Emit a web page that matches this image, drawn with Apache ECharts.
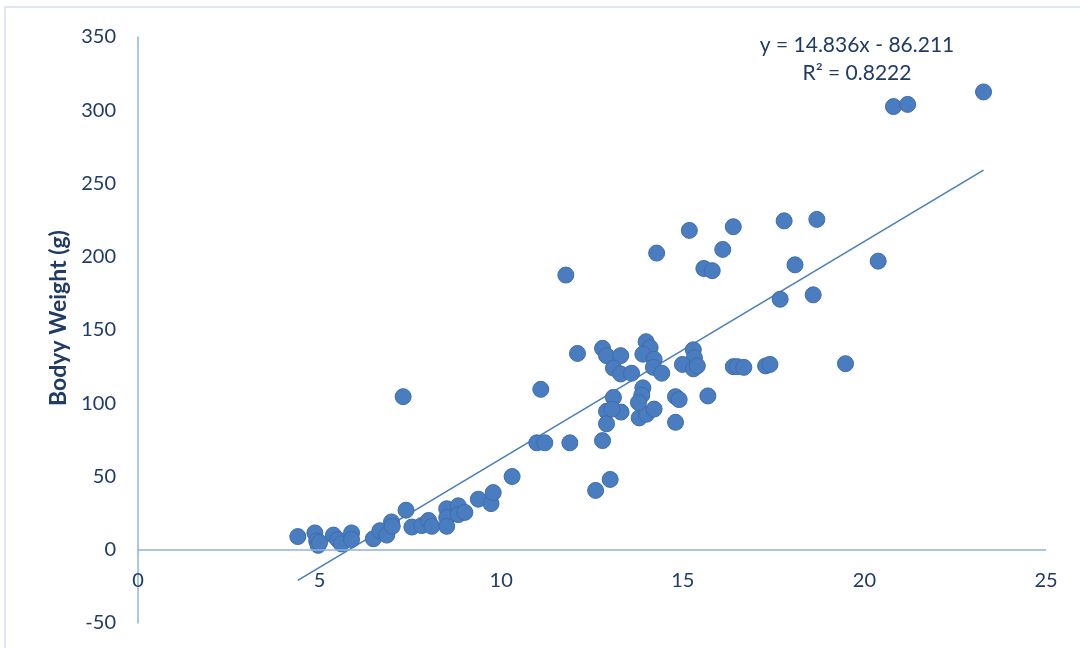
<!DOCTYPE html>
<html>
<head>
<meta charset="utf-8">
<script src="https://cdn.jsdelivr.net/npm/echarts@6/dist/echarts.min.js"></script>
<style>
  html, body { margin: 0; padding: 0; background: #fff; }
  #chart { width: 1080px; height: 648px; }
</style>
</head>
<body>
<div id="chart"></div>
<script>
// Body length vs body weight measurements
const lengths = [
  4.4, 4.87, 4.92, 4.96, 5.0, 5.38, 5.5, 5.6, 5.88, 5.88,
  6.48, 6.66, 6.85, 6.98, 7.0, 7.38, 7.54, 7.81, 8.0, 8.09,
  8.5, 8.5, 8.5, 8.82, 8.82, 9.0, 9.37, 9.72, 9.78, 10.3,
  7.3, 10.98, 11.2, 11.09, 11.89, 11.78, 12.1, 12.6, 12.79, 13.0,
  12.79, 12.9, 13.29, 13.09, 13.29, 13.59, 13.99, 14.1, 13.9, 14.21,
  14.19, 14.42, 14.28, 12.9, 13.09, 13.3, 12.9, 13.8, 14.0, 14.21,
  13.9, 13.87, 13.78, 14.8, 14.9, 14.8, 15.69, 15.29, 15.32, 14.99,
  15.29, 15.4, 15.18, 15.58, 15.81, 16.1, 16.39, 16.39, 16.5, 16.68,
  17.28, 17.4, 17.68, 17.79, 18.09, 18.59, 18.69, 19.48, 20.38, 20.8,
  21.19, 23.28, 13.05
];
const weights = [
  9, 11.5, 6, 3, 5, 10, 7, 4, 11.5, 7,
  7.5, 13, 10, 19, 16, 27, 15.5, 16.5, 20, 16,
  28, 22, 16, 30, 24, 25.5, 34.5, 31.5, 39, 50,
  104.5, 73, 73, 109.5, 73, 187.5, 134, 40.5, 74.5, 48,
  137.5, 132.5, 132.5, 124, 120, 120.5, 142, 138, 133.5, 130,
  124.5, 120.5, 202.5, 94.5, 104, 94, 86, 90, 92.5, 96,
  110.5, 105.5, 100.5, 104.5, 102.5, 87, 105, 136.5, 131, 126.5,
  123.5, 125.5, 218, 192, 190.5, 205, 220.5, 125, 125, 124.5,
  125.5, 126.5, 171, 224.5, 194.5, 174, 225.5, 127, 197, 302.5,
  304, 312.5, 96
];

// Linear trend line coefficients and fit quality
const slope = 14.836;
const intercept = -86.211;
const rSquared = 0.8222;

const xTicks = [0, 5, 10, 15, 20, 25];
const yTicks = [-50, 0, 50, 100, 150, 200, 250, 300, 350];
const yTitle = 'Bodyy Weight (g)';

const points = lengths.map((x, i) => [x, weights[i]]);
const xMin = Math.min(...lengths);
const xMax = Math.max(...lengths);
const trend = [xMin, xMax].map(x => [x, slope * x + intercept]);

const textColor = '#1f3b66';
const axisColor = '#8db3e2';
const pointColor = '#4a7cc0';
const font = 'Lato, "Open Sans", sans-serif';

const chart = echarts.init(document.getElementById('chart'), null, { renderer: 'canvas' });
chart.setOption({
  animation: false,
  backgroundColor: '#fff',
  grid: {
    left: 138, right: 34, top: 37, bottom: 25,
    containLabel: false, outerBoundsMode: 'none'
  },
  xAxis: {
    type: 'value',
    min: xTicks[0],
    max: xTicks[xTicks.length - 1],
    interval: 5,
    // the visible horizontal axis is the y = 0 line below; labels sit just under it
    axisLine: { show: false, onZero: false },
    axisTick: { show: false },
    splitLine: { show: false },
    axisLabel: {
      color: textColor, fontFamily: font, fontSize: 20, margin: -52,
      showMinLabel: true, showMaxLabel: true
    }
  },
  yAxis: {
    type: 'value',
    min: yTicks[0],
    max: yTicks[yTicks.length - 1],
    interval: 50,
    axisLine: { show: true, onZero: false, lineStyle: { color: axisColor, width: 1.5 } },
    axisTick: { show: false },
    splitLine: { show: false },
    axisLabel: {
      color: textColor, fontFamily: font, fontSize: 20, margin: 22,
      showMinLabel: true, showMaxLabel: true
    }
  },
  series: [
    {
      type: 'line',
      data: trend,
      symbol: 'none',
      silent: true,
      z: 3,
      lineStyle: { color: '#4a7ebb', width: 1.6 },
      markLine: {
        silent: true,
        symbol: 'none',
        label: { show: false },
        lineStyle: { color: axisColor, width: 1.5, type: 'solid' },
        data: [{ yAxis: 0 }]
      }
    },
    {
      type: 'scatter',
      data: points,
      symbol: 'circle',
      symbolSize: 16,
      z: 4,
      itemStyle: { color: pointColor, borderColor: '#3d6dad', borderWidth: 1, opacity: 1 }
    }
  ],
  graphic: [
    {
      type: 'rect',
      silent: true,
      shape: { x: 5, y: 7, width: 1200, height: 800 },
      style: { fill: 'none', stroke: '#d6e0ee', lineWidth: 1.5 }
    },
    {
      type: 'text',
      x: 59, y: 318,
      rotation: Math.PI / 2,
      style: {
        text: yTitle, fill: textColor, font: 'bold 23px ' + font,
        align: 'center', verticalAlign: 'middle'
      }
    },
    {
      type: 'text',
      x: 857, y: 45,
      style: {
        text: 'y = ' + slope + 'x - ' + Math.abs(intercept),
        fill: textColor, font: '21px ' + font,
        align: 'center', verticalAlign: 'middle'
      }
    },
    {
      type: 'text',
      x: 857, y: 73,
      style: {
        text: 'R² = ' + rSquared,
        fill: textColor, font: '21px ' + font,
        align: 'center', verticalAlign: 'middle'
      }
    }
  ]
});
</script>
</body>
</html>
